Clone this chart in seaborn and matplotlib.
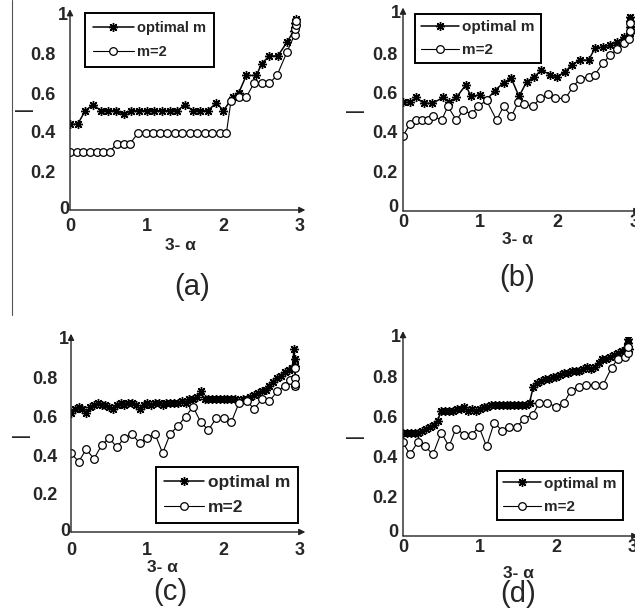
import matplotlib
matplotlib.use("Agg")
import matplotlib.pyplot as plt
import seaborn as sns
from matplotlib.lines import Line2D

sns.set_style("white")
plt.rcParams['font.family'] = ['Liberation Sans', 'DejaVu Sans']

W, H = 635, 613

# ---------------- data ----------------
# panel (a)
a_opt_x = [0, 0.1, 0.2, 0.3, 0.4, 0.5, 0.6, 0.7, 0.8, 0.9, 1.0, 1.1, 1.2, 1.3, 1.4,
           1.5, 1.6, 1.7, 1.8, 1.91, 2.0, 2.13, 2.2, 2.3, 2.43, 2.5, 2.6, 2.71, 2.83,
           2.92, 2.93, 2.94, 2.95, 2.95]
a_opt_y = [0.44, 0.44, 0.51, 0.54, 0.51, 0.51, 0.51, 0.49, 0.51, 0.51, 0.51, 0.51, 0.51, 0.51, 0.51,
           0.54, 0.51, 0.51, 0.51, 0.55, 0.51, 0.58, 0.60, 0.69, 0.69, 0.75, 0.79, 0.79, 0.86,
           0.92, 0.94, 0.96, 0.98, 0.95]
a_m2_x = [0, 0.087, 0.174, 0.261, 0.348, 0.435, 0.52, 0.61, 0.70, 0.78,
          0.89, 0.985, 1.08, 1.18, 1.27, 1.37, 1.46, 1.56, 1.66, 1.76, 1.85, 1.95, 2.04,
          2.1, 2.2, 2.3, 2.4, 2.5, 2.6, 2.7, 2.83, 2.93, 2.94, 2.95, 2.95]
a_m2_y = [0.30, 0.30, 0.30, 0.30, 0.30, 0.30, 0.30, 0.34, 0.34, 0.34,
          0.395, 0.395, 0.395, 0.395, 0.395, 0.395, 0.395, 0.395, 0.395, 0.395, 0.395, 0.395, 0.395,
          0.56, 0.58, 0.58, 0.65, 0.65, 0.65, 0.69, 0.81, 0.90, 0.93, 0.95, 0.97]

# panel (b)
b_opt_x = [0, 0.09, 0.17, 0.27, 0.38, 0.52, 0.6, 0.69, 0.81, 0.88, 0.99, 1.08, 1.19, 1.3,
           1.4, 1.5, 1.6, 1.7, 1.79, 1.9, 1.99, 2.1, 2.18, 2.29, 2.4, 2.48, 2.59, 2.68, 2.77,
           2.86, 2.93, 2.93, 2.94, 2.94, 2.95]
b_opt_y = [0.55, 0.55, 0.575, 0.545, 0.545, 0.575, 0.55, 0.575, 0.637, 0.58, 0.588, 0.563, 0.61, 0.65,
           0.672, 0.58, 0.655, 0.68, 0.714, 0.69, 0.68, 0.705, 0.74, 0.764, 0.764, 0.823, 0.832, 0.84, 0.857,
           0.88, 0.90, 0.93, 0.96, 0.98, 0.92]
b_m2_x = [0, 0.09, 0.17, 0.25, 0.32, 0.39, 0.5, 0.58, 0.69, 0.78, 0.89, 0.97, 1.08, 1.21,
          1.3, 1.4, 1.49, 1.57, 1.68, 1.77, 1.88, 1.97, 2.1, 2.2, 2.29, 2.4, 2.48, 2.59,
          2.68, 2.77, 2.86, 2.92, 2.93, 2.94]
b_m2_y = [0.38, 0.44, 0.46, 0.46, 0.46, 0.48, 0.46, 0.53, 0.46, 0.51, 0.49, 0.53, 0.56, 0.46,
          0.53, 0.48, 0.55, 0.54, 0.53, 0.57, 0.59, 0.57, 0.57, 0.63, 0.67, 0.68, 0.69, 0.75,
          0.79, 0.82, 0.85, 0.87, 0.91, 0.95]

# panel (c)
c_opt_x = [0, 0.05, 0.1, 0.15, 0.2, 0.25, 0.3, 0.35, 0.4, 0.45, 0.5, 0.55, 0.6, 0.65, 0.7,
           0.75, 0.8, 0.85, 0.9, 0.95, 1.0, 1.05, 1.1, 1.15, 1.2, 1.25, 1.3, 1.35, 1.4, 1.45,
           1.5, 1.55, 1.6, 1.65, 1.7, 1.75, 1.8, 1.85, 1.9, 1.95, 2.0, 2.05, 2.1, 2.15, 2.2,
           2.25, 2.3, 2.35, 2.4, 2.45, 2.5, 2.55, 2.6, 2.65, 2.7, 2.75, 2.8, 2.85, 2.9,
           2.92, 2.93, 2.93, 2.94, 2.94]
c_opt_y = [0.62, 0.64, 0.65, 0.64, 0.62, 0.65, 0.66, 0.67, 0.66, 0.66, 0.65, 0.64, 0.66, 0.67, 0.66,
           0.67, 0.67, 0.66, 0.64, 0.66, 0.67, 0.66, 0.67, 0.67, 0.66, 0.67, 0.67, 0.67, 0.67, 0.68,
           0.67, 0.69, 0.69, 0.70, 0.73, 0.69, 0.69, 0.69, 0.69, 0.69, 0.69, 0.69, 0.69, 0.69, 0.68,
           0.69, 0.69, 0.70, 0.71, 0.72, 0.73, 0.74, 0.76, 0.78, 0.80, 0.81, 0.83, 0.84, 0.85,
           0.95, 0.90, 0.86, 0.80, 0.76]
c_m2_x = [0, 0.1, 0.2, 0.3, 0.4, 0.5, 0.6, 0.7, 0.8, 0.9, 1.0, 1.1, 1.2, 1.3, 1.4,
          1.5, 1.6, 1.7, 1.8, 1.9, 2.0, 2.1, 2.2, 2.3, 2.4, 2.5, 2.6, 2.7, 2.8, 2.87,
          2.93, 2.93, 2.94, 2.94]
c_m2_y = [0.41, 0.365, 0.43, 0.38, 0.45, 0.49, 0.44, 0.49, 0.51, 0.46, 0.49, 0.51, 0.41, 0.51, 0.55,
          0.60, 0.65, 0.57, 0.53, 0.59, 0.59, 0.57, 0.67, 0.68, 0.64, 0.69, 0.68, 0.73, 0.76, 0.79,
          0.76, 0.80, 0.85, 0.77]

# panel (d)
d_opt_x = [0, 0.05, 0.1, 0.15, 0.2, 0.25, 0.3, 0.35, 0.4, 0.45, 0.5, 0.55, 0.6, 0.65, 0.7,
           0.75, 0.8, 0.85, 0.9, 0.95, 1.0, 1.05, 1.1, 1.15, 1.2, 1.25, 1.3, 1.35, 1.4, 1.45,
           1.5, 1.55, 1.6, 1.65, 1.7, 1.75, 1.8, 1.85, 1.9, 1.95, 2.0, 2.05, 2.1, 2.15, 2.2,
           2.25, 2.3, 2.35, 2.4, 2.45, 2.5, 2.55, 2.6, 2.65, 2.7, 2.75, 2.8, 2.85, 2.9,
           2.92, 2.93, 2.94, 2.95]
d_opt_y = [0.52, 0.52, 0.52, 0.52, 0.52, 0.53, 0.54, 0.55, 0.56, 0.58, 0.63, 0.63, 0.63, 0.63, 0.64,
           0.64, 0.65, 0.63, 0.64, 0.63, 0.64, 0.65, 0.65, 0.66, 0.66, 0.66, 0.66, 0.66, 0.66, 0.66,
           0.66, 0.66, 0.66, 0.67, 0.75, 0.77, 0.78, 0.79, 0.79, 0.80, 0.80, 0.81, 0.82, 0.82, 0.83,
           0.83, 0.83, 0.84, 0.85, 0.84, 0.85, 0.87, 0.89, 0.89, 0.90, 0.91, 0.92, 0.93, 0.93,
           0.95, 0.97, 0.99, 0.94]
d_m2_x = [0, 0.09, 0.19, 0.29, 0.39, 0.5, 0.6, 0.69, 0.8, 0.9, 0.99, 1.09, 1.19, 1.29, 1.38,
          1.49, 1.58, 1.69, 1.78, 1.88, 1.99, 2.1, 2.19, 2.29, 2.39, 2.5, 2.61, 2.72, 2.8, 2.9,
          2.93, 2.94]
d_m2_y = [0.47, 0.41, 0.47, 0.45, 0.41, 0.52, 0.45, 0.54, 0.51, 0.51, 0.55, 0.45, 0.57, 0.53, 0.55,
          0.55, 0.59, 0.61, 0.67, 0.67, 0.65, 0.67, 0.73, 0.75, 0.76, 0.76, 0.76, 0.845, 0.89, 0.90,
          0.92, 0.95]

y_ticks = [0.2, 0.4, 0.6, 0.8]
y_tick_labels = ["0.2", "0.4", "0.6", "0.8"]
x_ticks = [0, 1, 2, 3]
x_tick_labels = ["0", "1", "2", "3"]
series_labels = ["optimal m", "m=2"]
panel_names = ["(a)", "(b)", "(c)", "(d)"]
x_label_text = "3- \u03b1"

# ---------------- layout (pixels) ----------------
panels = [
    dict(box=(70, 210, 230, 195), opt=(a_opt_x, a_opt_y), m2=(a_m2_x, a_m2_y),
         ypad=10.5, xpad=5.5, zero=(-0.004, 0.005),
         leg=dict(loc='upper left', anchor=(0.065, 1.01), fs=10.5, hl=2.8, bp=0.55, ls=0.7),
         xl=(180, 245), nm=(192, 287), ylab=(-0.2, 0.503)),
    dict(box=(403, 211, 232, 197.5), opt=(b_opt_x, b_opt_y), m2=(b_m2_x, b_m2_y),
         ypad=4.3, xpad=2.2, zero=(-0.022, 0.02),
         leg=dict(loc='upper left', anchor=(0.05, 0.997), fs=11, hl=2.5, bp=0.4, ls=0.6),
         xl=(517, 239), nm=(517, 278), ylab=(-0.205, 0.50)),
    dict(box=(71, 532, 229, 192.5), opt=(c_opt_x, c_opt_y), m2=(c_m2_x, c_m2_y),
         ypad=10.0, xpad=7.0, zero=(-0.004, 0.005),
         leg=dict(loc='lower right', anchor=(0.99, 0.047), fs=12.5, hl=2.3, bp=0.45, ls=0.55),
         xl=(162, 567), nm=(170, 592), ylab=(-0.22, 0.49)),
    dict(box=(403, 536, 230, 199), opt=(d_opt_x, d_opt_y), m2=(d_m2_x, d_m2_y),
         ypad=4.3, xpad=2.2, zero=(-0.022, 0.02),
         leg=dict(loc='lower right', anchor=(0.957, 0.08), fs=11, hl=2.5, bp=0.4, ls=0.6),
         xl=(518, 573), nm=(518, 594), ylab=(-0.207, 0.49)),
]

star = (8, 2, 0)

fig = plt.figure(figsize=(W / 100, H / 100), dpi=100)
fig.patch.set_facecolor('white')

for i, p in enumerate(panels):
    l, b0, w, h = p['box']
    ax = fig.add_axes([l / W, 1 - b0 / H, w / W, h / H])
    ax.set_facecolor('white')
    sns.lineplot(x=p['opt'][0], y=p['opt'][1], ax=ax, color='black', lw=1.1,
                 marker=star, markersize=6.5, markeredgecolor='black', markeredgewidth=1.0,
                 estimator=None, sort=False, label=series_labels[0])
    sns.lineplot(x=p['m2'][0], y=p['m2'][1], ax=ax, color='black', lw=0.8,
                 marker='o', markersize=5.5, markerfacecolor='white',
                 markeredgecolor='black', markeredgewidth=0.9,
                 estimator=None, sort=False, label=series_labels[1])
    ax.set_xlim(0, 3)
    ax.set_ylim(0, 1)
    for s in ax.spines.values():
        s.set_visible(False)
    ax.set_yticks(y_ticks)
    ax.set_yticklabels(y_tick_labels)
    ax.set_xticks(x_ticks)
    ax.set_xticklabels(x_tick_labels)
    ax.tick_params(axis='y', direction='in', length=3, width=0.8, pad=p['ypad'],
                   labelsize=13)
    ax.tick_params(axis='x', direction='in', length=3, width=0.8, pad=p['xpad'],
                   labelsize=13)
    for t in ax.get_xticklabels() + ax.get_yticklabels():
        t.set_fontweight('bold')
    # 0 and 1 labels hug the axis
    ax.text(-0.008, 1, "1", transform=ax.get_yaxis_transform(), ha='right', va='center',
            fontsize=13, fontweight='bold')
    ax.text(p['zero'][0], p['zero'][1], "0", transform=ax.get_yaxis_transform(),
            ha='right', va='center', fontsize=13, fontweight='bold')
    # axes with arrows
    ax.annotate('', xy=(0, 1.03), xytext=(0, 0), annotation_clip=False,
                arrowprops=dict(arrowstyle='-|>', lw=1.0, color='#222222',
                                mutation_scale=9, shrinkA=0, shrinkB=0))
    ax.annotate('', xy=(3.07, 0), xytext=(0, 0), annotation_clip=False,
                arrowprops=dict(arrowstyle='-|>', lw=1.0, color='#222222',
                                mutation_scale=9, shrinkA=0, shrinkB=0))
    ax.set_ylabel("\u2014", rotation=0, fontsize=13, fontweight='bold', va='center')
    ax.yaxis.set_label_coords(*p['ylab'])
    ax.set_xlabel("")
    lg = p['leg']
    leg = ax.legend(loc=lg['loc'], bbox_to_anchor=lg['anchor'],
                    borderaxespad=0, frameon=True, fancybox=False, framealpha=1,
                    edgecolor='black', handlelength=lg['hl'], handletextpad=0.2,
                    borderpad=lg['bp'], labelspacing=lg['ls'],
                    prop=dict(family='Liberation Sans', weight='bold', size=lg['fs']))
    leg.get_frame().set_linewidth(1.4)
    fig.text(p['xl'][0] / W, 1 - p['xl'][1] / H, x_label_text, ha='center', va='center',
             fontsize=12.5, fontweight='bold')
    fig.text(p['nm'][0] / W, 1 - p['nm'][1] / H, panel_names[i], ha='center', va='center',
             fontsize=21)

# thin vertical rule on the left edge
fig.add_artist(Line2D([12 / W, 12 / W], [1 - 0 / H, 1 - 315 / H], color='#555555', lw=0.8))

fig.savefig("out.png", dpi=100, facecolor='white')
